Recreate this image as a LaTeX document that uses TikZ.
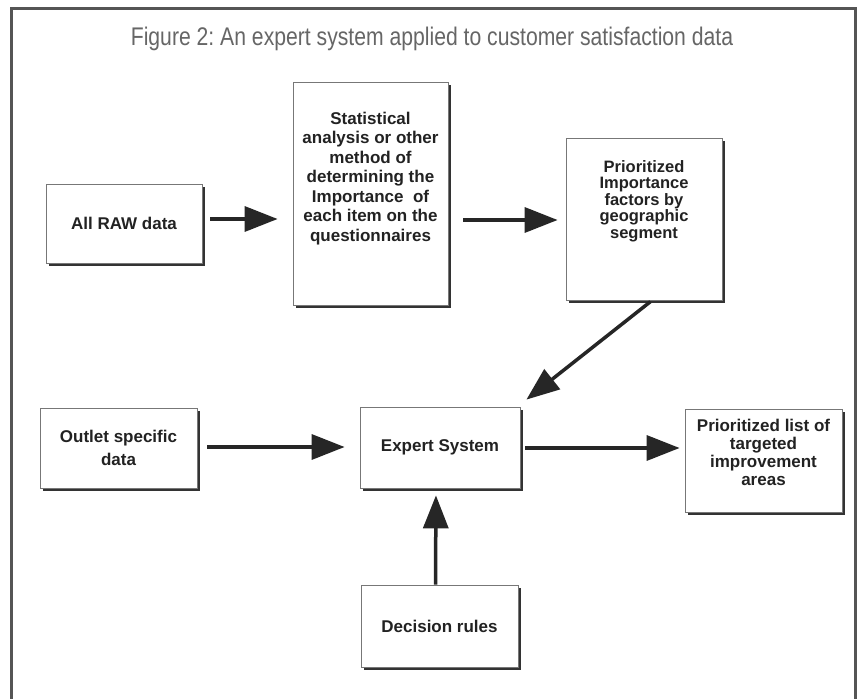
\documentclass[tikz,border=0pt]{standalone}
\usepackage{fontspec}
\setmainfont{Liberation Sans}
\newfontfamily\titlefont[FakeStretch=0.83]{Liberation Sans}
\usetikzlibrary{arrows.meta,shadows}
\definecolor{framec}{HTML}{555555}
\definecolor{titlec}{HTML}{666666}
\definecolor{boxline}{HTML}{777777}
\definecolor{shadowc}{HTML}{333333}
\definecolor{textc}{HTML}{222222}
\definecolor{arrowc}{HTML}{262626}
\frenchspacing
\begin{document}
\begin{tikzpicture}[x=1pt,y=-1pt,
  box/.style={draw=boxline, line width=0.8pt, fill=white, inner sep=0pt,
    drop shadow={shadow xshift=3pt, shadow yshift=-3pt, fill=shadowc, opacity=1}},
  txt/.style={font=\fontsize{17}{19.5}\selectfont\bfseries, text=textc, align=center, inner sep=0pt},
  arr/.style={line width=3.5pt, draw=arrowc, -{Triangle[length=33pt,width=25pt]}}]
\useasboundingbox (0,0) rectangle (863,699);
\fill[white] (0,0) rectangle (863,699);
% frame
\draw[framec, line width=3pt] (11,699) -- (11,8) -- (855,8) -- (855,699);
% title
\node[font=\titlefont\fontsize{25.5}{30}\selectfont, text=titlec, inner sep=0pt] (title) at (432,39) {Figure 2: An expert system applied to customer satisfaction data};
% boxes
\node[box, minimum width=156pt, minimum height=79pt] (raw) at (124,223.5) {};
\node[box, minimum width=155pt, minimum height=223pt] (stat) at (370.5,193.5) {};
\node[box, minimum width=156pt, minimum height=162pt] (prio) at (644,219) {};
\node[box, minimum width=157pt, minimum height=80pt] (outlet) at (118.5,448) {};
\node[box, minimum width=160pt, minimum height=81pt] (expert) at (440,447.5) {};
\node[box, minimum width=157pt, minimum height=103pt] (list) at (763.5,460.5) {};
\node[box, minimum width=157pt, minimum height=82pt] (dec) at (439.5,626) {};
% texts
\node[txt] (rawt) at (raw.center) {All RAW data};
\node[txt] (statt) at ([yshift=15pt]stat.center) {Statistical\\analysis or other\\method of\\determining the\\Importance\ \ of\\each item on the\\questionnaires};
\node[txt, font=\fontsize{16.5}{16.5}\selectfont\bfseries] (priot) at ([yshift=18pt]prio.center) {Prioritized\\Importance\\factors by\\geographic\\segment};
\node[txt, font=\fontsize{17}{23}\selectfont\bfseries] (outlett) at (outlet.center) {Outlet specific\\data};
\node[txt] (expertt) at (expert.center) {Expert System};
\node[txt, font=\fontsize{17}{18}\selectfont\bfseries] (listt) at ([yshift=8pt]list.center) {Prioritized list of\\targeted\\improvement\\areas};
\node[txt] (dect) at (dec.center) {Decision rules};
% arrows
\draw[arr, shorten <=8pt, shorten >=15pt] (raw.east |- 0,219) -- (stat.west |- 0,219);
\draw[arr, shorten <=15pt, shorten >=8pt] (stat.east |- 0,220) -- (prio.west |- 0,220);
\draw[arr, shorten <=2pt] ([xshift=8pt]prio.south) -- ([xshift=6pt,yshift=7pt]expert.north east);
\draw[arr, shorten <=10pt, shorten >=15pt] (outlet.east |- 0,447) -- (expert.west |- 0,447);
\draw[arr, shorten <=5pt, shorten >=5pt] (expert.east |- 0,448) -- (list.west |- 0,448);
\draw[arr, shorten >=7pt] ([xshift=-4pt]dec.north) -- ([xshift=-4pt]expert.south);
\end{tikzpicture}
\end{document}
